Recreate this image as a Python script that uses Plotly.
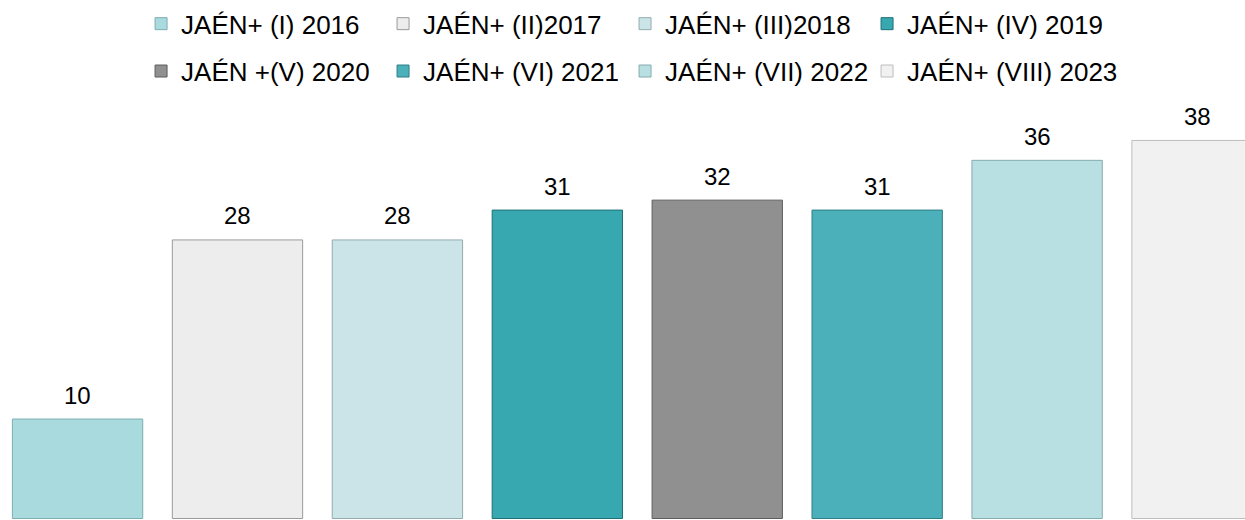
import plotly.graph_objects as go

series_names = [
    "JAÉN+ (I) 2016", "JAÉN+ (II)2017", "JAÉN+ (III)2018", "JAÉN+ (IV) 2019",
    "JAÉN +(V) 2020", "JAÉN+ (VI) 2021", "JAÉN+ (VII) 2022", "JAÉN+ (VIII) 2023",
]
values = [10, 28, 28, 31, 32, 31, 36, 38]
colors = ["#A8DADE", "#EDEDED", "#CBE4E8", "#37A8B0",
          "#909090", "#4BB0BA", "#B8E0E3", "#F1F1F1"]
edge_colors = ["#7FAEB2", "#9A9A9A", "#93ACAF", "#1F7077",
               "#5E5E5E", "#2E7E86", "#86ABAE", "#BDBDBD"]

FONT = "Liberation Sans, Arial, sans-serif"

fig = go.Figure()
for i, (name, v) in enumerate(zip(series_names, values)):
    last_in_row = (i % 4 == 3)
    fig.add_trace(go.Bar(
        x=[i], y=[v], name=name, width=0.815,
        marker=dict(color=colors[i], line=dict(color=edge_colors[i], width=1)),
        legend="legend" if i < 4 else "legend2",
        legendwidth=240 if last_in_row else None,
        hoverinfo="y",
    ))
    fig.add_annotation(x=i, y=v, text=str(v), showarrow=False,
                       yanchor="middle", yshift=24,
                       font=dict(family=FONT, size=24, color="#000000"))

legend_common = dict(
    orientation="h", xanchor="left", yanchor="middle",
    entrywidth=197, entrywidthmode="pixels",
    font=dict(family=FONT, size=26, color="#000000"),
    bgcolor="rgba(0,0,0,0)", itemwidth=30,
)

fig.update_layout(
    width=1245, height=520,
    margin=dict(l=0, r=0, t=0, b=0),
    paper_bgcolor="white", plot_bgcolor="white",
    barmode="overlay",
    showlegend=True,
    legend=dict(x=0.1133, y=1 - 17 / 520, **legend_common),
    legend2=dict(x=0.1133, y=1 - 65 / 520, **legend_common),
    xaxis=dict(range=[-0.485, 7.3], visible=False, showgrid=False, zeroline=False),
    yaxis=dict(range=[-0.15, 41.1], domain=[0, 0.8], visible=False,
               showgrid=False, zeroline=False),
)

fig.write_html(
    "out.html",
    config={"displayModeBar": False},
    post_script="document.body.style.margin='0';document.body.style.overflow='hidden';",
)
